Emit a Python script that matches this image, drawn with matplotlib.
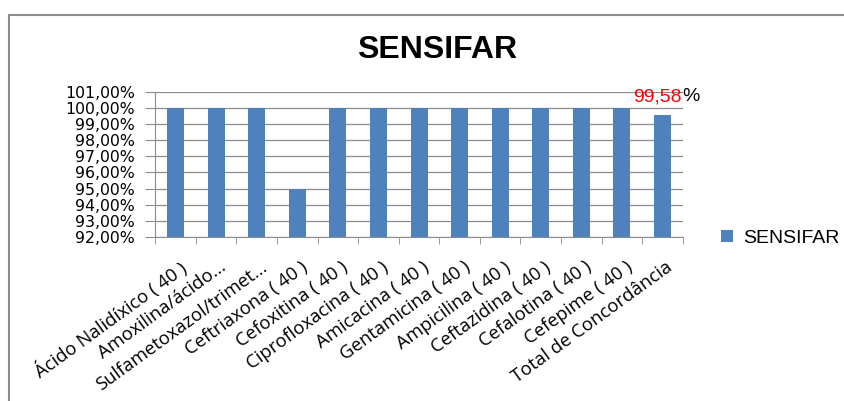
import matplotlib
matplotlib.use("Agg")
import matplotlib.pyplot as plt
import matplotlib.transforms as mtransforms
import numpy as np
from matplotlib.patches import Rectangle

categories = [
    "Ácido Nalidíxico ( 40 )",
    "Amoxilina/ácido...",
    "Sulfametoxazol/trimet...",
    "Ceftriaxona ( 40 )",
    "Cefoxitina ( 40 )",
    "Ciprofloxacina ( 40 )",
    "Amicacina ( 40 )",
    "Gentamicina ( 40 )",
    "Ampicilina ( 40 )",
    "Ceftazidina ( 40 )",
    "Cefalotina ( 40 )",
    "Cefepime ( 40 )",
    "Total de Concordância",
]
values = [100, 100, 100, 95, 100, 100, 100, 100, 100, 100, 100, 100, 99.58]
y_ticks = [92, 93, 94, 95, 96, 97, 98, 99, 100, 101]
series_name = "SENSIFAR"

fig = plt.figure(figsize=(8.44, 4.01), dpi=100)
ax = fig.add_axes([0.184, 0.409, 0.625, 0.362])

x = np.arange(len(categories))
ax.bar(x, values, width=0.42, color="#4F81BD", label=series_name, zorder=3)

ax.set_ylim(92, 101)
ax.set_xlim(-0.5, len(categories) - 0.5)
ax.set_yticks(y_ticks)
ax.set_yticklabels([f"{v:.2f}%".replace(".", ",") for v in y_ticks],
                   fontsize=11.3, family="DejaVu Sans")
ax.yaxis.grid(True, color="#8c8c8c", linewidth=0.9, zorder=0)

ax.set_xticks(x)
ax.set_xticklabels(categories, rotation=36, ha="right", rotation_mode="anchor",
                   fontsize=13.3, family="Open Sans")
ax.tick_params(axis="x", length=0, pad=0)
# push the rotated labels a little down, as in the spreadsheet
offset = mtransforms.ScaledTranslation(0.03, -0.21, fig.dpi_scale_trans)
for lbl in ax.get_xticklabels():
    lbl.set_transform(lbl.get_transform() + offset)
ax.set_xticks(np.arange(-0.5, len(categories)), minor=True)
ax.tick_params(axis="x", which="minor", length=5, color="#8c8c8c")
ax.tick_params(axis="y", length=7, color="#8c8c8c", pad=7.5)

for s in ["top", "right"]:
    ax.spines[s].set_visible(False)
for s in ["left", "bottom"]:
    ax.spines[s].set_color("#8c8c8c")

# annotation for the total
ax.text(12.48, 100.7, "99,58", color="red", ha="right", va="center",
        fontsize=14, family="Liberation Sans")
ax.text(12.48, 100.7, "%", color="black", ha="left", va="center",
        fontsize=14, family="Liberation Sans")

fig.text(0.518, 0.875, "SENSIFAR", ha="center", va="center",
         fontsize=23, fontweight="bold", family="Liberation Sans")

leg = fig.legend(loc="center left", bbox_to_anchor=(0.834, 0.405), frameon=False,
                 prop={"family": "Liberation Sans", "size": 14},
                 handlelength=0.6, handleheight=0.6, handletextpad=0.5)

fig.patches.append(Rectangle((9 / 844, -0.05), 1.1, 1 - 15 / 401 + 0.05,
                             transform=fig.transFigure, fill=False,
                             edgecolor="#8c8c8c", linewidth=1.5))

fig.savefig("out.png", dpi=100)
